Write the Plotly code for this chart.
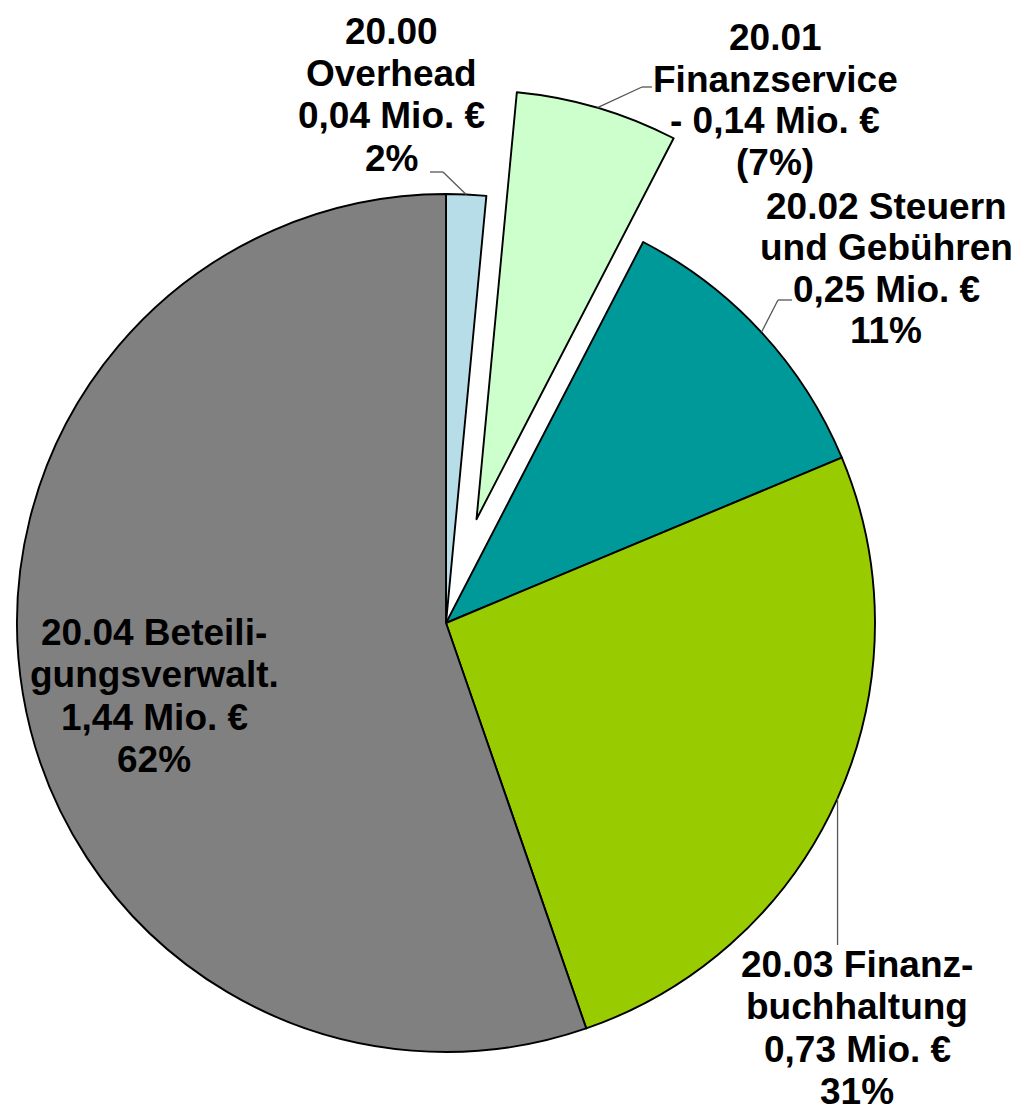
import math
import plotly.graph_objects as go

# ---- data ----
codes = ["20.00", "20.01", "20.02", "20.03", "20.04"]
names = ["Overhead", "Finanzservice", "Steuern und Gebühren", "Finanzbuchhaltung", "Beteiligungsverwaltung"]
values_mio = [0.04, -0.14, 0.25, 0.73, 1.44]          # Mio. € as labelled
label_pct = ["2%", "(7%)", "11%", "31%", "62%"]           # shares as labelled
slice_share = [1.5, 6.1, 11.1, 26.0, 55.3]               # slice sizes as drawn (% of circle)
colors = ["#B7DEE8", "#CCFFCC", "#009999", "#99CC00", "#808080"]
pulled = [0, 0.252, 0, 0, 0]                              # pull fraction of radius

label_lines = [
    ["20.00", "Overhead", "0,04 Mio. €", "2%"],
    ["20.01", "Finanzservice", "- 0,14 Mio. €", "(7%)"],
    ["20.02 Steuern", "und Gebühren", "0,25 Mio. €", "11%"],
    ["20.03 Finanz-", "buchhaltung", "0,73 Mio. €", "31%"],
    ["20.04 Beteili-", "gungsverwalt.", "1,44 Mio. €", "62%"],
]

# ---- layout constants (page pixels; the page body has an 8px margin) ----
PAGE_W, PAGE_H = 1019, 1113
OFF = 8
W, H = PAGE_W - OFF, PAGE_H - OFF
CX, CY, R = 446, 623, 429
FONT = "Liberation Sans, Arial, sans-serif"
FS = 37
LINE_GAP = 43

def px(x, y):
    return (x - OFF) / W, 1 - (y - OFF) / H

def dom(cx, cy, r):
    x0, y1 = px(cx - r, cy - r)
    x1, y0 = px(cx + r, cy + r)
    return dict(x=[x0, x1], y=[y0, y1])

# mid angles (clockwise from 12 o'clock)
tot = sum(slice_share)
mids = []
acc = 0
for s in slice_share:
    mids.append((acc + s / 2) / tot * 2 * math.pi)
    acc += s

fig = go.Figure()

# main pie (pulled slice hidden here)
fill_a = [c if p == 0 else "rgba(0,0,0,0)" for c, p in zip(colors, pulled)]
line_a = ["black" if p == 0 else "rgba(0,0,0,0)" for p in pulled]
fig.add_trace(go.Pie(
    labels=names, values=slice_share, sort=False, direction="clockwise", rotation=0,
    marker=dict(colors=fill_a, line=dict(color=line_a, width=1.9)),
    textinfo="none", hoverinfo="skip", domain=dom(CX, CY, R), showlegend=False,
))

# pulled slice drawn as an offset copy of the pie
i_p = max(range(len(pulled)), key=lambda i: pulled[i])
off = pulled[i_p] * R
PCX = CX + off * math.sin(mids[i_p])
PCY = CY - off * math.cos(mids[i_p])
fill_b = [c if p > 0 else "rgba(0,0,0,0)" for c, p in zip(colors, pulled)]
line_b = ["black" if p > 0 else "rgba(0,0,0,0)" for p in pulled]
fig.add_trace(go.Pie(
    labels=names, values=slice_share, sort=False, direction="clockwise", rotation=0,
    marker=dict(colors=fill_b, line=dict(color=line_b, width=1.9)),
    textinfo="none", hoverinfo="skip", domain=dom(PCX, PCY, R), showlegend=False,
))

# label positions (block centre x, first line y)
label_pos = [(391, 31), (775, 37), (886, 206), (857, 964), (154, 632)]
gaps = [42.5, 42, 41.5, 42.5, 42.5]
annotations = []
for lines, (lx, ly), g in zip(label_lines, label_pos, gaps):
    for k, t in enumerate(lines):
        x, y = px(lx, ly + k * g)
        annotations.append(dict(
            text="<b>%s</b>" % t, x=x, y=y, xref="paper", yref="paper",
            xanchor="center", yanchor="middle", showarrow=False,
            font=dict(family=FONT, size=FS, color="black"),
        ))

def arc_point(i):
    cx, cy = (PCX, PCY) if pulled[i] > 0 else (CX, CY)
    return cx + R * math.sin(mids[i]), cy - R * math.cos(mids[i])

# leader lines: start, elbow, anchor on arc
leaders = {
    0: [(430, 172), (443, 172)],
    1: [(652, 87), (642, 87)],
    2: [(792, 300), (778, 300)],
    3: [(None, 945)],
}
shapes = []
LC = "#555555"
for i, pts in leaders.items():
    ax, ay = arc_point(i)
    if i == 3:
        seq = [(ax, ay), (ax, pts[0][1])]
    else:
        seq = pts + [(ax, ay)]
    for (x0, y0), (x1, y1) in zip(seq[:-1], seq[1:]):
        a0 = px(x0, y0)
        a1 = px(x1, y1)
        shapes.append(dict(type="line", xref="paper", yref="paper",
                           x0=a0[0], y0=a0[1], x1=a1[0], y1=a1[1],
                           line=dict(color=LC, width=1.3)))

fig.update_layout(
    width=W, height=H, margin=dict(l=0, r=0, t=0, b=0),
    paper_bgcolor="white", plot_bgcolor="white",
    annotations=annotations, shapes=shapes, showlegend=False,
)

fig.write_html("out.html")
